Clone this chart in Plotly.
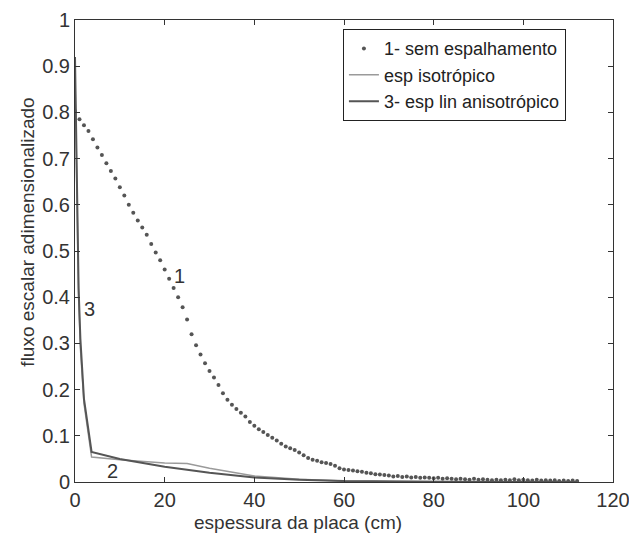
import plotly.graph_objects as go

# Curve 1 - sem espalhamento (dots)
x1 = list(range(0, 113))
y1 = [0.803, 0.785, 0.772, 0.760, 0.742, 0.724, 0.708, 0.690, 0.673, 0.657,
      0.638, 0.620, 0.600, 0.583, 0.566, 0.551, 0.535, 0.515, 0.497, 0.480,
      0.460, 0.440, 0.420, 0.400, 0.378, 0.352, 0.320, 0.296, 0.276, 0.257,
      0.240, 0.226, 0.210, 0.192, 0.178, 0.167, 0.158, 0.150, 0.142, 0.130,
      0.122, 0.114, 0.108, 0.102, 0.096, 0.090, 0.083, 0.077, 0.073, 0.069,
      0.064, 0.058, 0.052, 0.048, 0.046, 0.043, 0.041, 0.039, 0.035, 0.030,
      0.027, 0.026, 0.025, 0.023, 0.022, 0.020, 0.019, 0.017, 0.016, 0.015,
      0.014, 0.012, 0.013, 0.011, 0.012, 0.010, 0.011, 0.009, 0.010, 0.009,
      0.008, 0.009, 0.007, 0.008, 0.007, 0.006, 0.007, 0.006, 0.005, 0.007,
      0.005, 0.006, 0.005, 0.004, 0.005, 0.004, 0.005, 0.004, 0.006, 0.004,
      0.005, 0.004, 0.003, 0.005, 0.003, 0.004, 0.003, 0.004, 0.002, 0.003,
      0.002, 0.003, 0.002]

# Curve 2 - esp isotropico
x2 = [0, 0.4, 0.8, 1.2, 2.0, 3.7, 10, 20, 25, 30, 40, 50, 60, 70, 80, 112]
y2 = [0.88, 0.58, 0.40, 0.29, 0.17, 0.054, 0.048, 0.041, 0.040, 0.030,
      0.013, 0.006, 0.002, 0.001, 0.0005, 0.0]

# Curve 3 - esp lin anisotropico
x3 = [0, 0.4, 0.8, 1.2, 2.0, 3.7, 10, 20, 30, 40, 50, 60, 70, 80, 112]
y3 = [0.92, 0.62, 0.42, 0.31, 0.18, 0.065, 0.050, 0.033, 0.020, 0.010,
      0.005, 0.002, 0.001, 0.0005, 0.0]

names = ["1- sem espalhamento", "esp isotrópico", "3- esp lin anisotrópico"]
x_ticks = [0, 20, 40, 60, 80, 100, 120]
y_ticks = [0, 0.1, 0.2, 0.3, 0.4, 0.5, 0.6, 0.7, 0.8, 0.9, 1]

FONT = "Liberation Sans, Arial, sans-serif"

fig = go.Figure()
fig.add_trace(go.Scatter(x=x1, y=y1, mode="markers", name=names[0],
                         marker=dict(size=4, color="#555555", symbol="circle")))
fig.add_trace(go.Scatter(x=x2, y=y2, mode="lines", name=names[1],
                         line=dict(color="#9a9a9a", width=1.5)))
fig.add_trace(go.Scatter(x=x3, y=y3, mode="lines", name=names[2],
                         line=dict(color="#555555", width=2)))

axis_common = dict(showgrid=False, zeroline=False, showline=True, linecolor="#333",
                   linewidth=1, mirror="ticks", ticks="inside", ticklen=5,
                   tickcolor="#333", ticklabeloverflow="allow", automargin=False,
                   tickfont=dict(family=FONT, size=20, color="#333"))

fig.update_xaxes(range=[0, 120], tickvals=x_ticks, **axis_common)
fig.update_yaxes(range=[0, 1], tickvals=y_ticks, **axis_common)

fig.add_annotation(x=23.4, y=0.445, text="1", showarrow=False,
                   font=dict(family=FONT, size=20, color="#333"))
fig.add_annotation(x=3.3, y=0.375, text="3", showarrow=False,
                   font=dict(family=FONT, size=20, color="#333"))
fig.add_annotation(x=8.3, y=0.024, text="2", showarrow=False,
                   font=dict(family=FONT, size=20, color="#333"))

fig.add_annotation(xref="paper", yref="paper", x=0.414, y=-0.088,
                   text="espessura da placa (cm)", showarrow=False,
                   yanchor="middle", font=dict(family=FONT, size=19, color="#333"))
fig.add_annotation(xref="paper", yref="paper", x=-0.089, y=0.54,
                   text="fluxo escalar adimensionalizado", showarrow=False,
                   textangle=-90, xanchor="center", yanchor="middle",
                   font=dict(family=FONT, size=19, color="#333"))

fig.update_layout(
    width=629, height=535,
    margin=dict(l=67, r=24, t=12, b=61),
    paper_bgcolor="white", plot_bgcolor="white",
    showlegend=True,
    legend=dict(x=0.498, y=0.98, xanchor="left", yanchor="top",
                bordercolor="#222", borderwidth=1, bgcolor="white",
                font=dict(family=FONT, size=18, color="#222"),
                tracegroupgap=0, itemwidth=30),
)

fig.write_html("out.html")
